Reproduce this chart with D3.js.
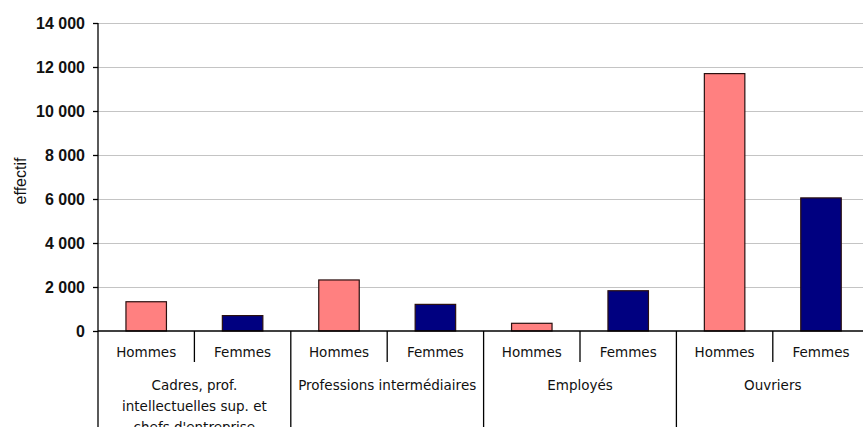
<!DOCTYPE html>
<html><head><meta charset="utf-8">
<script src="https://cdn.jsdelivr.net/npm/d3@7"></script>
<style>html,body{margin:0;padding:0;background:#fff;overflow:hidden}</style>
</head><body>
<svg id="c" width="863" height="427"></svg>
<script>
const groups = ["Cadres, prof.\nintellectuelles sup. et\nchefs d'entreprise", "Professions intermédiaires", "Employés", "Ouvriers"];
const sexes = ["Hommes", "Femmes"];
const values = [1330, 700, 2320, 1210, 350, 1830, 11700, 6050];
const yTicks = [0, 2000, 4000, 6000, 8000, 10000, 12000, 14000];
const yLabel = "effectif";
const colors = ["#ff8080", "#000080"];

(function () {
const svg = d3.select("#c");
const mLeft = 98, mTop = 23, mBottom = 331, bandW = 96.4;
const cats = d3.range(groups.length * sexes.length);
const x = d3.scaleBand().domain(cats).range([mLeft, mLeft + bandW * cats.length]).padding(0);
const y = d3.scaleLinear().domain([0, 14000]).range([mBottom, mTop]);
const fmt = v => d3.format(",")(v).replace(/,/g, " ");

// gridlines
svg.append("g").selectAll("line").data(yTicks.filter(d => d > 0)).join("line")
  .attr("x1", mLeft).attr("x2", 863)
  .attr("y1", d => Math.round(y(d)) + 0.5).attr("y2", d => Math.round(y(d)) + 0.5)
  .attr("stroke", "#c4c4c4").attr("stroke-width", 1.2);

// bars
const bw = x.bandwidth();
svg.append("g").selectAll("rect").data(values).join("rect")
  .attr("x", (d, i) => x(i) + bw * 0.29)
  .attr("width", bw * 0.42)
  .attr("y", d => y(d))
  .attr("height", d => y(0) - y(d))
  .attr("fill", (d, i) => colors[i % 2])
  .attr("stroke", "#2a1010").attr("stroke-width", 1.2);

// y axis
const yAxis = d3.axisLeft(y).tickValues(yTicks).tickSize(5).tickPadding(8).tickFormat(fmt);
const ga = svg.append("g").attr("transform", `translate(${mLeft},0)`).call(yAxis);
ga.select(".domain").remove();
ga.selectAll(".tick line").attr("stroke", "#000").attr("stroke-width", 1.3);
ga.selectAll(".tick text").attr("font-family", "Liberation Sans, Arial, sans-serif")
  .attr("font-size", 16).attr("font-weight", "bold").attr("fill", "#111").attr("dy", "0.34em");
svg.append("line").attr("x1", mLeft).attr("x2", mLeft).attr("y1", mTop).attr("y2", 427)
  .attr("stroke", "#000").attr("stroke-width", 1.3);

svg.append("text").attr("transform", `translate(26,181) rotate(-90)`)
  .attr("text-anchor", "middle").attr("font-family", "Liberation Sans, Arial, sans-serif")
  .attr("font-size", 16).attr("fill", "#111").text(yLabel);

// x axis
svg.append("line").attr("x1", mLeft).attr("x2", 863).attr("y1", mBottom).attr("y2", mBottom)
  .attr("stroke", "#000").attr("stroke-width", 1.3);

const fontX = "DejaVu Sans, Verdana, sans-serif";
svg.append("g").selectAll("text").data(cats).join("text")
  .attr("x", i => x(i) + bw / 2).attr("y", 357)
  .attr("text-anchor", "middle").attr("font-family", fontX).attr("font-size", 13.5)
  .attr("fill", "#111").text(i => sexes[i % 2]);
svg.append("g").selectAll("line").data(d3.range(1, cats.length + 1)).join("line")
  .attr("x1", i => x(i - 1) + bw).attr("x2", i => x(i - 1) + bw)
  .attr("y1", mBottom).attr("y2", i => i % 2 === 0 ? 427 : 362)
  .attr("stroke", "#000").attr("stroke-width", 1.3);
const gl = svg.append("g").selectAll("text").data(groups).join("text")
  .attr("x", (g, k) => x(k * 2) + bw)
  .attr("y", 390)
  .attr("text-anchor", "middle").attr("font-family", fontX).attr("font-size", 13.5).attr("fill", "#111");
gl.each(function (g) {
  const lines = g.split("\n");
  const gx = d3.select(this).attr("x");
  d3.select(this).selectAll("tspan").data(lines).join("tspan")
    .attr("x", gx).attr("dy", (d, j) => j === 0 ? 0 : 21).text(d => d);
});
})();
</script>
</body></html>
